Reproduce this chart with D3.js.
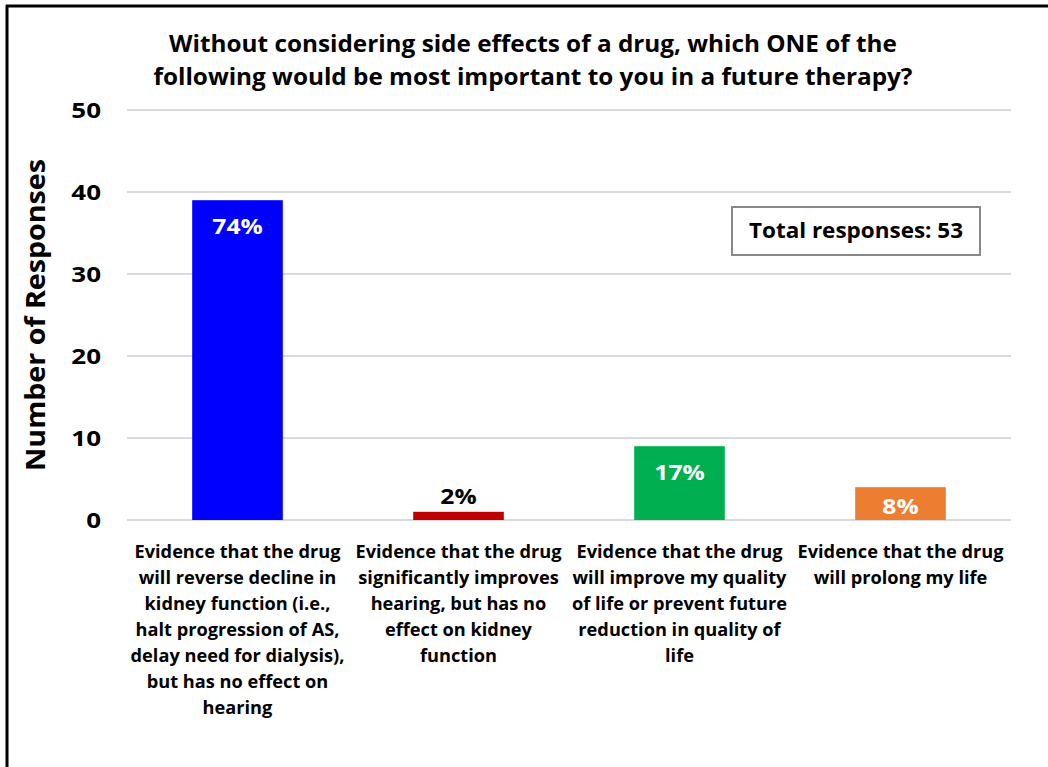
<!DOCTYPE html>
<html>
<head>
<meta charset="utf-8">
<script src="https://cdn.jsdelivr.net/npm/d3@7"></script>
<style>
  html, body { margin: 0; padding: 0; background: #fff; }
  svg { display: block; font-family: "Open Sans", Lato, sans-serif; font-weight: bold; }
</style>
</head>
<body>
<svg id="chart" width="1048" height="767"></svg>
<script>
// Survey answers
const categories = [
  ["Evidence that the drug", "will reverse decline in", "kidney function (i.e.,", "halt progression of AS,", "delay need for dialysis),", "but has no effect on", "hearing"],
  ["Evidence that the drug", "significantly improves", "hearing, but has no", "effect on kidney", "function"],
  ["Evidence that the drug", "will improve my quality", "of life or prevent future", "reduction in quality of", "life"],
  ["Evidence that the drug", "will prolong my life"]
];
const responses = [39, 1, 9, 4];
const barColors = ["#0000FF", "#C00000", "#00B050", "#ED7D31"];
const yTicks = [0, 10, 20, 30, 40, 50];
const titleLines = [
  "Without considering side effects of a drug, which ONE of the",
  "following would be most important to you in a future therapy?"
];
const totalResponses = d3.sum(responses);
const FONT = "'Open Sans', Lato, sans-serif";

// Widen text horizontally by factor k (the chart's typeface runs wide)
function widen(sel, k) {
  sel.each(function () {
    const w = this.getComputedTextLength();
    d3.select(this).attr("textLength", w * k).attr("lengthAdjust", "spacingAndGlyphs");
  });
}

const svg = d3.select("#chart");

// Frame lines (left and top)
svg.append("line").attr("x1", 7).attr("x2", 7).attr("y1", 5).attr("y2", 767)
  .attr("stroke", "#000").attr("stroke-width", 3);
svg.append("line").attr("x1", 6).attr("x2", 1048).attr("y1", 6).attr("y2", 6)
  .attr("stroke", "#000").attr("stroke-width", 3);

const plot = { left: 127, right: 1011, top: 110, bottom: 520 };

const x = d3.scaleBand()
  .domain(d3.range(categories.length))
  .range([plot.left, plot.right])
  .padding(0);
const barW = x.bandwidth() * 0.41;

const y = d3.scaleLinear().domain([0, 50]).range([plot.bottom, plot.top]);

// Gridlines
svg.append("g").selectAll("line").data(yTicks).join("line")
  .attr("x1", plot.left).attr("x2", plot.right)
  .attr("y1", d => y(d)).attr("y2", d => y(d))
  .attr("stroke", "#D9D9D9").attr("stroke-width", 2);

// Y tick labels
const yAxis = d3.axisLeft(y).tickValues(yTicks).tickSize(0).tickPadding(0);
const gy = svg.append("g").attr("transform", "translate(101,0)").call(yAxis);
gy.select(".domain").remove();
gy.selectAll("text")
  .attr("font-family", FONT)
  .attr("font-weight", "bold")
  .attr("font-size", 22)
  .attr("fill", "#000")
  .attr("dy", "0.35em")
  .call(widen, 1.18);

// Y axis title
svg.append("text")
  .attr("transform", `translate(45,${(plot.top + plot.bottom) / 2}) rotate(-90)`)
  .attr("text-anchor", "middle")
  .attr("font-size", 26.5)
  .attr("fill", "#000")
  .text("Number of Responses")
  .call(widen, 1.08);

// Bars
const bars = responses.map((v, i) => ({ v, i, pct: Math.round(v / totalResponses * 100) + "%" }));
svg.append("g").selectAll("rect").data(bars).join("rect")
  .attr("x", d => x(d.i) + (x.bandwidth() - barW) / 2)
  .attr("width", barW)
  .attr("y", d => y(d.v))
  .attr("height", d => y(0) - y(d.v))
  .attr("fill", d => barColors[d.i]);

// Percentage labels: inside the top of tall bars, above short bars
const inside = d => (y(0) - y(d.v)) > 25;
svg.append("g").selectAll("text").data(bars).join("text")
  .attr("x", d => x(d.i) + x.bandwidth() / 2)
  .attr("y", d => inside(d) ? y(d.v) + Math.min(34, y(0) - y(d.v) - 6) : y(d.v) - 8)
  .attr("text-anchor", "middle")
  .attr("font-size", 22)
  .attr("fill", d => inside(d) ? "#fff" : "#000")
  .text(d => d.pct)
  .call(widen, 1.12);

// Category labels
const xl = svg.append("g").selectAll("text").data(categories).join("text")
  .attr("x", (d, i) => x(i) + x.bandwidth() / 2)
  .attr("y", 558)
  .attr("text-anchor", "middle")
  .attr("font-size", 17)
  .attr("fill", "#000");
xl.selectAll("tspan").data(d => d).join("tspan")
  .attr("x", function () { return d3.select(this.parentNode).attr("x"); })
  .attr("dy", (d, j) => j === 0 ? 0 : 26)
  .text(d => d);
xl.each(function () {
  d3.select(this).selectAll("tspan").each(function () {
    const w = this.getComputedTextLength();
    d3.select(this).attr("textLength", w * 1.07).attr("lengthAdjust", "spacingAndGlyphs");
  });
});

// Title
svg.append("g").selectAll("text").data(titleLines).join("text")
  .attr("x", 533)
  .attr("y", (d, i) => 52 + i * 33)
  .attr("text-anchor", "middle")
  .attr("font-size", 22.5)
  .attr("fill", "#000")
  .text(d => d)
  .call(widen, 1.08);

// Total responses box
svg.append("rect")
  .attr("x", 732).attr("y", 207).attr("width", 248).attr("height", 48)
  .attr("fill", "#fff").attr("stroke", "#888").attr("stroke-width", 2);
svg.append("text")
  .attr("x", 856).attr("y", 238)
  .attr("text-anchor", "middle")
  .attr("font-size", 21)
  .attr("fill", "#000")
  .text("Total responses: " + totalResponses)
  .call(widen, 1.07);
</script>
</body>
</html>
